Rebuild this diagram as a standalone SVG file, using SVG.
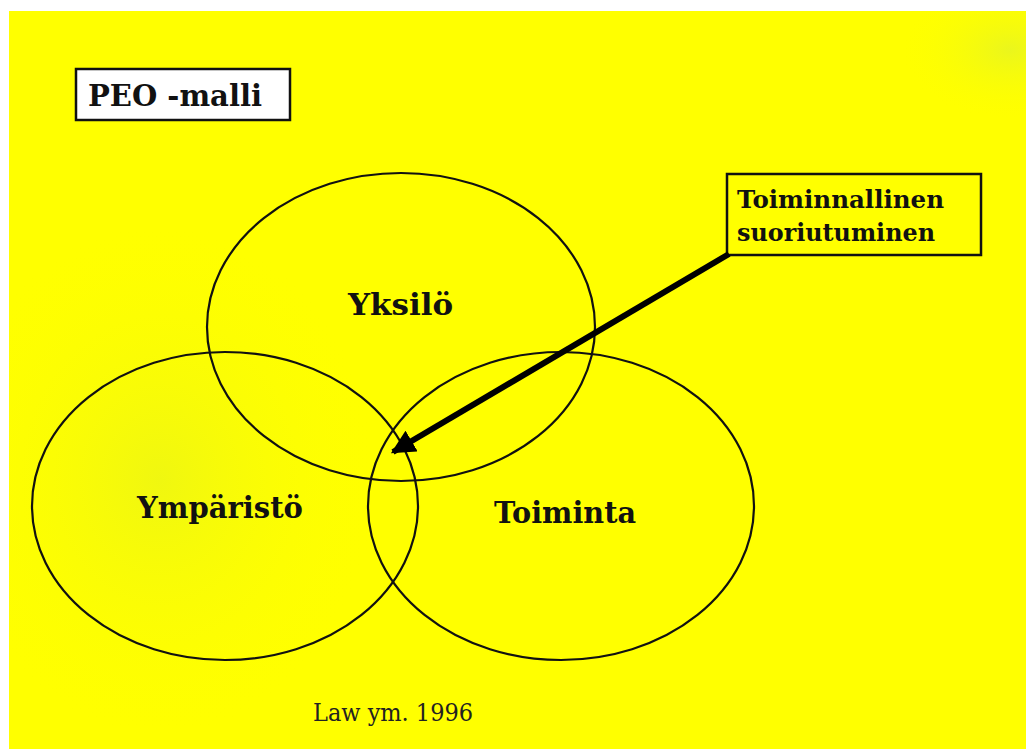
<svg xmlns="http://www.w3.org/2000/svg" width="1026" height="749" viewBox="0 0 1026 749">
<defs>
<radialGradient id="tintL" cx="0.5" cy="0.5" r="0.5">
<stop offset="0" stop-color="#ecf514" stop-opacity="0.8"/>
<stop offset="1" stop-color="#ffff00" stop-opacity="0"/>
</radialGradient>
<radialGradient id="tintR" cx="0.5" cy="0.5" r="0.5">
<stop offset="0" stop-color="#e8f520" stop-opacity="0.9"/>
<stop offset="1" stop-color="#ffff00" stop-opacity="0"/>
</radialGradient>
<clipPath id="bgclip"><rect x="9" y="11" width="1017" height="738"/></clipPath>
<marker id="ah" viewBox="0 0 10 10" refX="9" refY="5" markerWidth="4" markerHeight="4" orient="auto" markerUnits="strokeWidth">
<path d="M0,0 L10,5 L0,10 z" fill="#000"/>
</marker>
<style>
.ell{fill:none;stroke:#111;stroke-width:2.2}
.lbl{font-family:"DejaVu Serif","Liberation Serif",serif;font-weight:bold;fill:#111}
.box{stroke:#111;stroke-width:2.5}
</style>
</defs>
<rect x="0" y="0" width="1026" height="749" fill="#fff"/>
<rect x="9" y="11" width="1017" height="738" fill="#ffff00"/>
<g clip-path="url(#bgclip)">
<ellipse cx="160" cy="480" rx="220" ry="260" fill="url(#tintL)"/>
<ellipse cx="1010" cy="50" rx="110" ry="70" fill="url(#tintR)"/>
</g>
<g id="node-yksilo">
<ellipse class="ell" cx="401" cy="327" rx="194" ry="154"/>
<text class="lbl" x="348" y="315" font-size="29" textLength="105" lengthAdjust="spacingAndGlyphs">Yksilö</text>
</g>
<g id="node-ymparisto">
<ellipse class="ell" cx="225" cy="506" rx="193" ry="154"/>
<text class="lbl" x="137" y="518" font-size="29" textLength="166" lengthAdjust="spacingAndGlyphs">Ympäristö</text>
</g>
<g id="node-toiminta">
<ellipse class="ell" cx="561" cy="506" rx="193" ry="154"/>
<text class="lbl" x="494" y="523" font-size="29" textLength="142" lengthAdjust="spacingAndGlyphs">Toiminta</text>
</g>
<g id="node-title">
<rect class="box" x="76" y="69" width="214" height="51" fill="#fff"/>
<text class="lbl" x="88" y="106" font-size="30" textLength="174" lengthAdjust="spacingAndGlyphs">PEO -malli</text>
</g>
<g id="node-suoriutuminen">
<rect class="box" x="727" y="174" width="254" height="81" fill="none"/>
<text class="lbl" x="737" y="208" font-size="24" textLength="207" lengthAdjust="spacingAndGlyphs">Toiminnallinen</text>
<text class="lbl" x="737" y="241" font-size="24" textLength="198" lengthAdjust="spacingAndGlyphs">suoriutuminen</text>
</g>
<g id="connectors">
<line x1="729" y1="254" x2="393" y2="452" stroke="#000" stroke-width="6" marker-end="url(#ah)"/>
</g>
<text x="313" y="721" font-family="'DejaVu Serif','Liberation Serif',serif" font-size="24" fill="#222" textLength="160" lengthAdjust="spacingAndGlyphs">Law ym. 1996</text>
</svg>
